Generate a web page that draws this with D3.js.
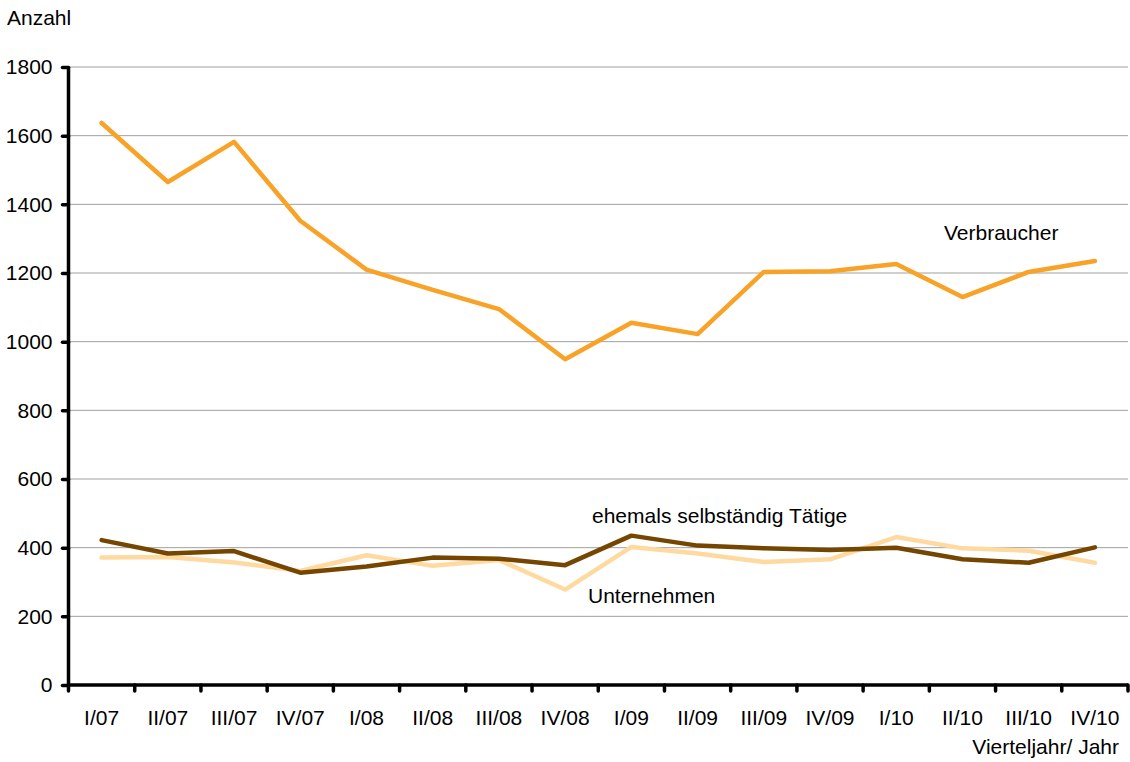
<!DOCTYPE html>
<html>
<head>
<meta charset="utf-8">
<script src="https://cdn.jsdelivr.net/npm/d3@7"></script>
<style>
  body { margin: 0; background: #fff; }
  text { font-family: "Liberation Sans", Arial, sans-serif; fill: #000; }
</style>
</head>
<body>
<div id="chart-area"></div>
<script>
// Daten
var quartale = ["I/07","II/07","III/07","IV/07","I/08","II/08","III/08","IV/08",
                "I/09","II/09","III/09","IV/09","I/10","II/10","III/10","IV/10"];
var verbraucher = [1637,1465,1582,1352,1210,1151,1095,949,1055,1022,1203,1205,1226,1130,1203,1235];
var ehemals = [422,383,390,327,345,371,368,349,435,406,398,393,400,366,356,401];
var unternehmen = [371,373,357,332,378,347,364,278,402,383,358,366,431,398,391,356];
var yTicks = [0,200,400,600,800,1000,1200,1400,1600,1800];

var width = 1130, height = 762;
var margin = {top: 67, right: 2, bottom: 77, left: 68.5};
var innerW = width - margin.left - margin.right;
var innerH = height - margin.top - margin.bottom;
var fs = "21px";

var svg = d3.select("#chart-area")
    .append("svg")
    .attr("width", width)
    .attr("height", height);

var g = svg.append("g")
    .attr("transform", "translate(" + margin.left + "," + margin.top + ")");

// Skalen
var x = d3.scaleBand().domain(quartale).range([0, innerW]);
var y = d3.scaleLinear().domain([0, 1800]).range([innerH, 0]);

// Gitterlinien
g.selectAll(".grid")
    .data(yTicks.filter(function(d){ return d > 0; }))
    .enter().append("line")
    .attr("class", "grid")
    .attr("x1", 0).attr("x2", innerW)
    .attr("y1", function(d){ return y(d); })
    .attr("y2", function(d){ return y(d); })
    .attr("stroke", "#a0a0a0")
    .attr("stroke-width", 1);

// Linien
var line = d3.line()
    .x(function(d, i){ return x(quartale[i]) + x.bandwidth() / 2; })
    .y(function(d){ return y(d); });

var series = [
  {values: unternehmen, color: "#ffdaa0"},
  {values: ehemals, color: "#744600"},
  {values: verbraucher, color: "#f8a227"}
];
series.forEach(function(s){
  g.append("path")
    .datum(s.values)
    .attr("d", line)
    .attr("fill", "none")
    .attr("stroke", s.color)
    .attr("stroke-width", 4.5)
    .attr("stroke-linejoin", "round")
    .attr("stroke-linecap", "round");
});

// Achsen
var leftAxis = d3.axisLeft(y).tickValues(yTicks).tickFormat(d3.format("d"))
    .tickSize(6).tickPadding(10);
var ya = g.append("g").attr("class", "left axis").call(leftAxis);
ya.select(".domain").remove();
ya.append("line").attr("x1", 0).attr("x2", 0).attr("y1", 0).attr("y2", innerH)
    .attr("stroke", "#000").attr("stroke-width", 3.5);
ya.selectAll(".tick line").attr("stroke", "#000").attr("stroke-width", 3.5)
    .attr("stroke-linecap", "round");
ya.selectAll("text").attr("font-size", fs).attr("font-family", "Liberation Sans, Arial, sans-serif")
    .attr("fill", "#000");

var tickPos = quartale.map(function(q){ return x(q); }).concat([innerW]);
var xa = g.append("g").attr("class", "bottom axis")
    .attr("transform", "translate(0," + innerH + ")");
xa.append("line").attr("x1", 0).attr("x2", innerW).attr("y1", 0).attr("y2", 0)
    .attr("stroke", "#000").attr("stroke-width", 3.5);
xa.selectAll(".xtick").data(tickPos).enter().append("line")
    .attr("x1", function(d){ return d; }).attr("x2", function(d){ return d; })
    .attr("y1", 0).attr("y2", 6)
    .attr("stroke", "#000").attr("stroke-width", 3.5).attr("stroke-linecap", "round");
xa.selectAll(".xlabel").data(quartale).enter().append("text")
    .attr("x", function(d){ return x(d) + x.bandwidth() / 2; })
    .attr("y", 40)
    .attr("text-anchor", "middle")
    .attr("font-size", fs)
    .text(function(d){ return d; });

// Beschriftungen
svg.append("text").attr("x", 7).attr("y", 25).attr("font-size", fs).text("Anzahl");
svg.append("text").attr("x", 1119).attr("y", 754).attr("text-anchor", "end")
    .attr("font-size", fs).text("Vierteljahr/ Jahr");
svg.append("text").attr("x", 944).attr("y", 240).attr("font-size", fs).text("Verbraucher");
svg.append("text").attr("x", 592).attr("y", 523).attr("font-size", fs).text("ehemals selbständig Tätige");
svg.append("text").attr("x", 588).attr("y", 603).attr("font-size", fs).text("Unternehmen");
</script>
</body>
</html>
